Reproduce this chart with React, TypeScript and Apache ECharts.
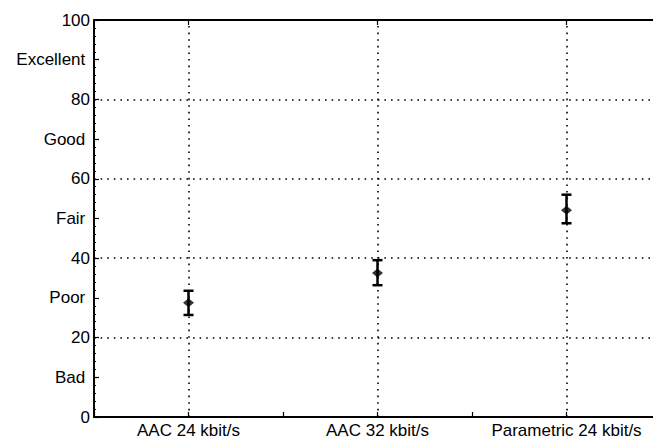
import React, { useEffect, useRef } from "react";
import * as echarts from "echarts";

const categories = ["AAC 24 kbit/s", "AAC 32 kbit/s", "Parametric 24 kbit/s"];
const meanScores = [28.8, 36.3, 52.1];
const lowerBounds = [25.7, 33.2, 48.8];
const upperBounds = [31.8, 39.5, 56.0];
const yTickLabels: Record<number, string> = {
  0: "0",
  10: "Bad ",
  20: "20",
  30: "Poor ",
  40: "40",
  50: "Fair ",
  60: "60",
  70: "Good ",
  80: "80",
  90: "Excellent ",
  100: "100",
};
const gridValues = [20, 40, 60, 80];

const FONT = "'Liberation Sans', Arial, sans-serif";
const DOT: number[] = [1.6, 5];

export default function App() {
  const ref = useRef<HTMLDivElement>(null);
  useEffect(() => {
    if (!ref.current) return;
    const chart = echarts.init(ref.current, undefined, { renderer: "svg" });
    const option: any = {
      animation: false,
      backgroundColor: "#ffffff",
      grid: { left: 94, top: 20, width: 567, height: 397, show: false },
      xAxis: [
        {
          type: "category",
          data: categories,
          position: "bottom",
          boundaryGap: true,
          axisLine: { show: true, lineStyle: { color: "#000", width: 2 } },
          axisTick: { show: true, inside: true, length: 5, lineStyle: { color: "#000", width: 1.2 } },
          axisLabel: { color: "#000", fontSize: 17, fontFamily: FONT, margin: 5, interval: 0, hideOverlap: false },
          splitLine: { show: false },
        },
        {
          type: "category",
          data: categories,
          position: "bottom",
          boundaryGap: true,
          axisLine: { show: false },
          axisTick: { show: true, inside: true, alignWithLabel: true, interval: 0, length: 5, lineStyle: { color: "#000", width: 1.2 } },
          axisLabel: { show: false },
          splitLine: { show: false },
        },
        {
          type: "category",
          data: categories,
          position: "top",
          boundaryGap: true,
          axisLine: { show: true, lineStyle: { color: "#000", width: 2 } },
          axisTick: { show: true, inside: true, alignWithLabel: true, interval: 0, length: 5, lineStyle: { color: "#000", width: 1.2 } },
          axisLabel: { show: false },
          splitLine: { show: false },
        },
      ],
      yAxis: [
        {
          type: "value",
          min: 0,
          max: 100,
          interval: 10,
          position: "left",
          axisLine: { show: true, lineStyle: { color: "#000", width: 2 } },
          axisTick: { show: true, inside: true, length: 5, lineStyle: { color: "#000", width: 1.2 } },
          minorTick: { show: true, splitNumber: 5, length: 2, lineStyle: { color: "#000", width: 1 } },
          axisLabel: {
            color: "#000",
            fontSize: 17,
            fontFamily: FONT,
            margin: 4,
            formatter: (v: number) => yTickLabels[Math.round(v)] ?? "",
          },
          splitLine: { show: false },
        },
      ],
      series: [
        {
          type: "custom",
          xAxisIndex: 0,
          yAxisIndex: 0,
          data: categories.map((c, i) => [i, lowerBounds[i], upperBounds[i]]),
          renderItem: (params: any, api: any) => {
            const idx = api.value(0);
            const lo = api.coord([idx, api.value(1)]);
            const hi = api.coord([idx, api.value(2)]);
            const half = 5;
            const style = { stroke: "#000", lineWidth: 2.5 };
            return {
              type: "group",
              children: [
                { type: "line", shape: { x1: lo[0], y1: lo[1], x2: hi[0], y2: hi[1] }, style },
                { type: "line", shape: { x1: lo[0] - half, y1: lo[1], x2: lo[0] + half, y2: lo[1] }, style },
                { type: "line", shape: { x1: hi[0] - half, y1: hi[1], x2: hi[0] + half, y2: hi[1] }, style },
              ],
            };
          },
          z: 5,
        },
        {
          type: "scatter",
          xAxisIndex: 0,
          yAxisIndex: 0,
          data: meanScores,
          symbol: "diamond",
          symbolSize: [11, 9],
          itemStyle: { color: "#000" },
          z: 6,
          markLine: {
            silent: true,
            symbol: "none",
            label: { show: false },
            lineStyle: { color: "#000", type: DOT, width: 1.6 },
            data: [
              ...categories.map((c) => ({ xAxis: c })),
              ...gridValues.map((v) => ({ yAxis: v })),
            ],
            z: 1,
          },
        },
      ],
    };
    chart.setOption(option);
    return () => chart.dispose();
  }, []);
  return (
    <div
      style={{ position: "absolute", left: 0, top: 0, width: 653, height: 439, overflow: "hidden", background: "#fff" }}
    >
      <div ref={ref} style={{ width: 672, height: 439 }} />
    </div>
  );
}
